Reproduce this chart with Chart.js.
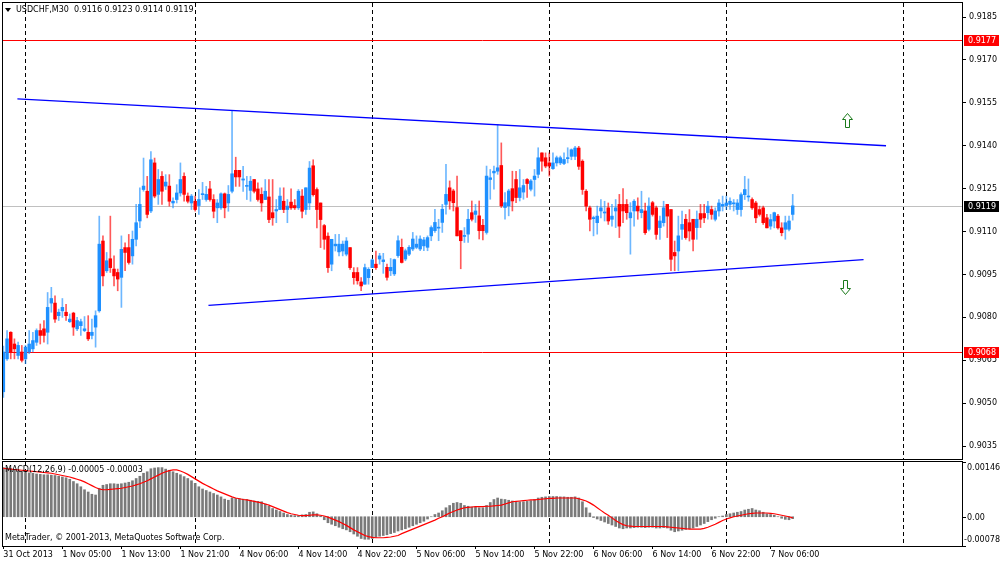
<!DOCTYPE html>
<html>
<head>
<meta charset="utf-8">
<script src="https://cdn.jsdelivr.net/npm/chart.js@4.4.0/dist/chart.umd.min.js"></script>
<style>
  html, body { margin: 0; padding: 0; background: #fff; }
  #wrap { position: relative; width: 1000px; height: 562px; overflow: hidden; }
  canvas { position: absolute; left: 0; }
  #priceCanvas { top: 0; }
  #macdCanvas { top: 461px; }
</style>
</head>
<body>
<div id="wrap">
  <canvas id="priceCanvas" width="1000" height="461"></canvas>
  <canvas id="macdCanvas" width="1000" height="101"></canvas>
</div>
<script>
// USDCHF M30, 31 Oct 2013 21:00 .. 7 Nov 2013 09:00 (bar index 0..214)
const symbolText = 'USDCHF,M30';

const barOpen = [
  0.90540,0.90655,0.90748,0.90707,0.90667,0.90679,0.90655,0.90679,0.90690,0.90713,
  0.90754,0.90760,0.90748,0.90850,0.90850,0.90806,0.90823,0.90818,0.90785,0.90815,
  0.90760,0.90771,0.90754,0.90748,0.90737,0.90766,0.90823,0.91067,0.90963,0.91005,
  0.90969,0.90957,0.90940,0.91044,0.91044,0.91015,0.91073,0.91137,0.91247,0.91241,
  0.91172,0.91340,0.91230,0.91293,0.91259,0.91259,0.91200,0.91212,0.91235,0.91293,
  0.91224,0.91200,0.91206,0.91191,0.91229,0.91212,0.91249,0.91212,0.91183,0.91183,
  0.91232,0.91200,0.91241,0.91314,0.91314,0.91280,0.91258,0.91244,0.91282,0.91249,
  0.91230,0.91212,0.91221,0.91166,0.91172,0.91177,0.91206,0.91177,0.91203,0.91191,
  0.91183,0.91224,0.91177,0.91200,0.91330,0.91247,0.91200,0.91121,0.91084,0.90986,
  0.91050,0.91029,0.91032,0.91021,0.91044,0.90957,0.90957,0.90924,0.90916,0.90939,
  0.90974,0.90986,0.91004,0.90995,0.90975,0.90963,0.90952,0.91016,0.91045,0.91004,
  0.91021,0.91039,0.91045,0.91039,0.91050,0.91045,0.91085,0.91103,0.91112,0.91132,
  0.91195,0.91253,0.91242,0.91184,0.91103,0.91083,0.91091,0.91166,0.91160,0.91155,
  0.91122,0.91097,0.91282,0.91305,0.91311,0.91331,0.91184,0.91190,0.91250,0.91282,
  0.91219,0.91238,0.91282,0.91248,0.91282,0.91300,0.91375,0.91358,0.91340,0.91320,
  0.91340,0.91340,0.91338,0.91355,0.91363,0.91363,0.91392,0.91346,0.91241,0.91183,
  0.91145,0.91131,0.91172,0.91165,0.91183,0.91143,0.91172,0.91195,0.91195,0.91195,
  0.91148,0.91172,0.91189,0.91166,0.91172,0.91108,0.91201,0.91183,0.91114,0.91131,
  0.91195,0.91177,0.91027,0.91032,0.91108,0.91143,0.91131,0.91143,0.91114,0.91163,
  0.91163,0.91166,0.91177,0.91143,0.91172,0.91189,0.91191,0.91195,0.91197,0.91177,
  0.91177,0.91229,0.91221,0.91212,0.91200,0.91177,0.91183,0.91148,0.91119,0.91137,
  0.91154,0.91113,0.91108,0.91108,0.91160
];
const barHigh = [
  0.90700,0.90754,0.90750,0.90725,0.90714,0.90702,0.90702,0.90754,0.90748,0.90760,
  0.90777,0.90789,0.90887,0.90905,0.90875,0.90829,0.90866,0.90846,0.90812,0.90818,
  0.90800,0.90794,0.90803,0.90806,0.90794,0.90823,0.91154,0.91085,0.91027,0.91154,
  0.91015,0.90969,0.91085,0.91061,0.91090,0.91102,0.91195,0.91253,0.91357,0.91293,
  0.91380,0.91357,0.91317,0.91310,0.91299,0.91299,0.91218,0.91264,0.91340,0.91305,
  0.91235,0.91230,0.91224,0.91247,0.91272,0.91258,0.91276,0.91229,0.91212,0.91235,
  0.91235,0.91261,0.91522,0.91360,0.91314,0.91328,0.91293,0.91293,0.91282,0.91270,
  0.91253,0.91282,0.91282,0.91282,0.91212,0.91253,0.91253,0.91212,0.91249,0.91212,
  0.91247,0.91247,0.91253,0.91345,0.91351,0.91253,0.91200,0.91125,0.91096,0.91073,
  0.91090,0.91090,0.91067,0.91079,0.91044,0.90974,0.90974,0.90939,0.90986,0.90974,
  0.91004,0.91032,0.91024,0.91024,0.90986,0.91006,0.91004,0.91085,0.91074,0.91039,
  0.91051,0.91097,0.91085,0.91085,0.91080,0.91085,0.91120,0.91178,0.91143,0.91195,
  0.91335,0.91277,0.91248,0.91294,0.91103,0.91114,0.91178,0.91207,0.91195,0.91207,
  0.91143,0.91329,0.91317,0.91329,0.91474,0.91410,0.91236,0.91248,0.91311,0.91311,
  0.91317,0.91282,0.91285,0.91282,0.91317,0.91393,0.91375,0.91375,0.91375,0.91375,
  0.91364,0.91364,0.91375,0.91393,0.91389,0.91398,0.91398,0.91351,0.91247,0.91189,
  0.91154,0.91189,0.91212,0.91206,0.91200,0.91195,0.91212,0.91230,0.91250,0.91212,
  0.91201,0.91212,0.91218,0.91241,0.91200,0.91218,0.91206,0.91189,0.91154,0.91206,
  0.91195,0.91177,0.91067,0.91154,0.91172,0.91160,0.91177,0.91143,0.91172,0.91195,
  0.91195,0.91206,0.91189,0.91183,0.91212,0.91224,0.91224,0.91218,0.91212,0.91212,
  0.91235,0.91293,0.91284,0.91218,0.91206,0.91189,0.91189,0.91160,0.91160,0.91168,
  0.91160,0.91131,0.91154,0.91154,0.91230
];
const barLow = [
  0.90520,0.90650,0.90655,0.90655,0.90655,0.90644,0.90638,0.90673,0.90679,0.90702,
  0.90707,0.90713,0.90707,0.90818,0.90782,0.90789,0.90800,0.90789,0.90782,0.90737,
  0.90754,0.90737,0.90750,0.90719,0.90725,0.90696,0.90818,0.90910,0.90957,0.90957,
  0.90910,0.90893,0.90835,0.90963,0.90986,0.90986,0.91050,0.91114,0.91241,0.91148,
  0.91166,0.91218,0.91195,0.91195,0.91247,0.91189,0.91183,0.91200,0.91224,0.91206,
  0.91200,0.91177,0.91171,0.91160,0.91212,0.91206,0.91206,0.91148,0.91131,0.91177,
  0.91148,0.91171,0.91235,0.91258,0.91258,0.91240,0.91212,0.91206,0.91235,0.91206,
  0.91171,0.91212,0.91131,0.91122,0.91131,0.91177,0.91166,0.91131,0.91177,0.91177,
  0.91177,0.91148,0.91160,0.91177,0.91224,0.91113,0.91044,0.91038,0.90957,0.90963,
  0.91032,0.91015,0.91015,0.91015,0.90968,0.90916,0.90916,0.90893,0.90916,0.90916,
  0.90974,0.90968,0.90986,0.90954,0.90930,0.90946,0.90946,0.91010,0.90990,0.90998,
  0.91016,0.91033,0.91040,0.91033,0.91033,0.91033,0.91068,0.91097,0.91068,0.91097,
  0.91161,0.91178,0.91172,0.91085,0.90970,0.91062,0.91062,0.91137,0.91132,0.91074,
  0.91071,0.91091,0.91213,0.91248,0.91300,0.91184,0.91143,0.91155,0.91172,0.91201,
  0.91207,0.91213,0.91219,0.91242,0.91224,0.91288,0.91311,0.91323,0.91294,0.91317,
  0.91329,0.91334,0.91334,0.91340,0.91351,0.91351,0.91317,0.91230,0.91172,0.91102,
  0.91085,0.91091,0.91148,0.91137,0.91125,0.91119,0.91114,0.91079,0.91131,0.91143,
  0.91021,0.91119,0.91143,0.91148,0.91090,0.91102,0.91154,0.91073,0.91073,0.91119,
  0.91079,0.90963,0.90963,0.90963,0.91073,0.91073,0.91067,0.91032,0.91073,0.91114,
  0.91131,0.91143,0.91143,0.91137,0.91154,0.91172,0.91177,0.91177,0.91172,0.91160,
  0.91154,0.91212,0.91206,0.91177,0.91131,0.91154,0.91125,0.91113,0.91108,0.91113,
  0.91108,0.91085,0.91073,0.91102,0.91140
];
const barClose = [
  0.90679,0.90725,0.90679,0.90690,0.90702,0.90650,0.90696,0.90707,0.90719,0.90754,
  0.90737,0.90737,0.90835,0.90866,0.90794,0.90818,0.90835,0.90806,0.90794,0.90766,
  0.90789,0.90785,0.90760,0.90725,0.90748,0.90806,0.91056,0.90945,0.90998,0.90974,
  0.90945,0.90934,0.91038,0.91027,0.90992,0.91073,0.91131,0.91195,0.91259,0.91160,
  0.91351,0.91224,0.91282,0.91241,0.91273,0.91206,0.91206,0.91235,0.91282,0.91230,
  0.91206,0.91224,0.91177,0.91212,0.91232,0.91230,0.91212,0.91171,0.91200,0.91232,
  0.91183,0.91230,0.91302,0.91291,0.91291,0.91284,0.91260,0.91276,0.91241,0.91212,
  0.91200,0.91241,0.91142,0.91148,0.91177,0.91224,0.91177,0.91189,0.91183,0.91183,
  0.91241,0.91171,0.91253,0.91322,0.91229,0.91177,0.91142,0.91073,0.90974,0.91073,
  0.91056,0.91056,0.91056,0.91067,0.90974,0.90939,0.90928,0.90910,0.90974,0.90968,
  0.91001,0.90974,0.91015,0.91001,0.90940,0.90975,0.91002,0.91068,0.90992,0.91033,
  0.91045,0.91074,0.91056,0.91074,0.91071,0.91079,0.91114,0.91132,0.91114,0.91178,
  0.91230,0.91207,0.91201,0.91085,0.91068,0.91085,0.91143,0.91143,0.91172,0.91103,
  0.91103,0.91294,0.91288,0.91311,0.91323,0.91190,0.91201,0.91242,0.91207,0.91219,
  0.91253,0.91261,0.91268,0.91277,0.91294,0.91358,0.91346,0.91329,0.91329,0.91340,
  0.91358,0.91358,0.91352,0.91358,0.91386,0.91392,0.91328,0.91247,0.91189,0.91143,
  0.91149,0.91154,0.91183,0.91168,0.91137,0.91154,0.91183,0.91119,0.91172,0.91166,
  0.91166,0.91206,0.91172,0.91177,0.91096,0.91189,0.91160,0.91090,0.91137,0.91183,
  0.91154,0.91003,0.91015,0.91085,0.91125,0.91079,0.91102,0.91073,0.91143,0.91143,
  0.91148,0.91189,0.91160,0.91172,0.91200,0.91195,0.91200,0.91206,0.91200,0.91200,
  0.91229,0.91247,0.91224,0.91183,0.91148,0.91160,0.91131,0.91113,0.91142,0.91166,
  0.91113,0.91096,0.91131,0.91137,0.91190
];

// MACD(12,26,9): main line (histogram) and signal line
const macdHist = [
  0.00131,0.00130,0.00128,0.00125,0.00122,0.00120,0.00118,0.00117,0.00116,0.00114,
  0.00113,0.00112,0.00112,0.00111,0.00110,0.00108,0.00106,0.00104,0.00100,0.00094,
  0.00088,0.00080,0.00072,0.00066,0.00060,0.00058,0.00076,0.00084,0.00086,0.00088,
  0.00088,0.00087,0.00088,0.00090,0.00092,0.00096,0.00102,0.00108,0.00116,0.00120,
  0.00128,0.00130,0.00131,0.00131,0.00127,0.00124,0.00120,0.00116,0.00112,0.00107,
  0.00102,0.00096,0.00089,0.00080,0.00074,0.00070,0.00066,0.00062,0.00058,0.00053,
  0.00047,0.00044,0.00050,0.00049,0.00048,0.00047,0.00046,0.00044,0.00042,0.00041,
  0.00040,0.00034,0.00028,0.00022,0.00018,0.00014,0.00010,0.00006,0.00004,0.00003,
  0.00003,0.00005,0.00006,0.00012,0.00013,0.00008,0.00002,-0.00008,-0.00016,-0.00020,
  -0.00024,-0.00028,-0.00032,-0.00035,-0.00040,-0.00046,-0.00052,-0.00058,-0.00060,-0.00060,
  -0.00058,-0.00055,-0.00052,-0.00050,-0.00048,-0.00045,-0.00042,-0.00038,-0.00035,-0.00032,
  -0.00028,-0.00024,-0.00020,-0.00016,-0.00012,-0.00006,0.00000,0.00006,0.00010,0.00016,
  0.00024,0.00030,0.00036,0.00038,0.00036,0.00030,0.00028,0.00026,0.00026,0.00024,
  0.00024,0.00030,0.00038,0.00046,0.00050,0.00047,0.00046,0.00044,0.00042,0.00040,
  0.00040,0.00040,0.00041,0.00043,0.00046,0.00050,0.00052,0.00053,0.00054,0.00054,
  0.00054,0.00053,0.00053,0.00052,0.00052,0.00053,0.00050,0.00040,0.00024,0.00010,
  -0.00002,-0.00006,-0.00010,-0.00014,-0.00018,-0.00022,-0.00026,-0.00030,-0.00032,-0.00030,
  -0.00030,-0.00029,-0.00028,-0.00028,-0.00029,-0.00028,-0.00028,-0.00030,-0.00030,-0.00029,
  -0.00030,-0.00036,-0.00040,-0.00038,-0.00036,-0.00034,-0.00032,-0.00030,-0.00026,-0.00022,
  -0.00018,-0.00013,-0.00008,-0.00004,0.00000,0.00002,0.00006,0.00008,0.00010,0.00012,
  0.00014,0.00018,0.00020,0.00022,0.00018,0.00016,0.00012,0.00008,0.00006,0.00004,
  0.00000,-0.00004,-0.00007,-0.00008,-0.00005
];
const macdSignal = [
  0.00129,0.00128,0.00127,0.00126,0.00125,0.00124,0.00123,0.00122,0.00121,0.00120,
  0.00119,0.00118,0.00117,0.00116,0.00114,0.00112,0.00110,0.00108,0.00106,0.00103,
  0.00100,0.00097,0.00093,0.00088,0.00083,0.00078,0.00074,0.00072,0.00072,0.00073,
  0.00074,0.00075,0.00076,0.00078,0.00080,0.00082,0.00085,0.00088,0.00092,0.00096,
  0.00101,0.00106,0.00111,0.00116,0.00120,0.00123,0.00125,0.00125,0.00122,0.00118,
  0.00113,0.00107,0.00101,0.00095,0.00089,0.00084,0.00079,0.00074,0.00069,0.00065,
  0.00061,0.00057,0.00053,0.00050,0.00048,0.00046,0.00045,0.00043,0.00041,0.00039,
  0.00037,0.00034,0.00031,0.00027,0.00023,0.00019,0.00015,0.00011,0.00008,0.00006,
  0.00004,0.00003,0.00003,0.00004,0.00005,0.00005,0.00004,0.00002,-0.00001,-0.00005,
  -0.00009,-0.00013,-0.00018,-0.00023,-0.00029,-0.00035,-0.00040,-0.00045,-0.00050,-0.00053,
  -0.00055,-0.00056,-0.00056,-0.00056,-0.00055,-0.00054,-0.00052,-0.00050,-0.00045,-0.00041,
  -0.00037,-0.00033,-0.00029,-0.00025,-0.00021,-0.00017,-0.00013,-0.00009,-0.00004,0.00000,
  0.00005,0.00010,0.00014,0.00018,0.00021,0.00024,0.00025,0.00026,0.00027,0.00027,
  0.00027,0.00028,0.00028,0.00029,0.00030,0.00031,0.00034,0.00037,0.00040,0.00041,
  0.00042,0.00043,0.00044,0.00045,0.00045,0.00046,0.00047,0.00048,0.00049,0.00049,
  0.00050,0.00050,0.00050,0.00050,0.00050,0.00050,0.00048,0.00045,0.00042,0.00037,
  0.00031,0.00024,0.00017,0.00010,0.00004,-0.00003,-0.00010,-0.00016,-0.00021,-0.00024,
  -0.00025,-0.00026,-0.00026,-0.00026,-0.00026,-0.00026,-0.00026,-0.00026,-0.00026,-0.00026,
  -0.00027,-0.00028,-0.00029,-0.00030,-0.00031,-0.00032,-0.00033,-0.00033,-0.00033,-0.00033,
  -0.00031,-0.00028,-0.00024,-0.00020,-0.00015,-0.00010,-0.00006,-0.00003,0.00000,0.00002,
  0.00004,0.00006,0.00008,0.00009,0.00010,0.00010,0.00010,0.00010,0.00009,0.00008,
  0.00006,0.00004,0.00002,0.00000,-0.00003
];

// time axis: bar indices of tick labels and day separators
const tickBars = [0, 16, 32, 48, 64, 80, 96, 112, 128, 144, 160, 176, 192, 208];
const tickText = ['31 Oct 2013', '1 Nov 05:00', '1 Nov 13:00', '1 Nov 21:00', '4 Nov 06:00',
  '4 Nov 14:00', '4 Nov 22:00', '5 Nov 06:00', '5 Nov 14:00', '5 Nov 22:00', '6 Nov 06:00',
  '6 Nov 14:00', '6 Nov 22:00', '7 Nov 06:00'];
const sepBars = [6, 52, 100, 148, 196, 244];

// price axis
const priceTicks = [0.9035, 0.9050, 0.9065, 0.9080, 0.9095, 0.9110, 0.9125, 0.9140, 0.9155, 0.9170, 0.9185];
const macdTicks = [0.00146, 0, -0.00078];

// objects on chart
const levelPrice = [0.9177, 0.9119, 0.9068];
const levelKind = ['alert', 'bid', 'alert'];
const upperTrend = [{ x: 3.8, y: 0.91564 }, { x: 239.3, y: 0.91400 }];
const lowerTrend = [{ x: 55.6, y: 0.90842 }, { x: 233.2, y: 0.91002 }];
const arrowBar = [228.6, 228.3];
const arrowPrice = [0.91491, 0.90905];
const arrowDir = ['up', 'down'];

const FONT = "'DejaVu Sans', 'Liberation Sans', sans-serif";
const FONT_PX = 8;
const BULL = '#1E90FF', BEAR = '#FF0000';
const BULL_WICK = 'rgba(30,144,255,0.65)', BEAR_WICK = 'rgba(255,0,0,0.65)';
const levelStyle = { alert: { line: '#FF0000', box: '#FF0000' }, bid: { line: '#C0C0C0', box: '#000000' } };
const X_MIN = -0.1, X_MAX = 259.9;

Chart.defaults.font.family = FONT;
Chart.defaults.font.size = FONT_PX;
Chart.defaults.color = '#000';

const last = barClose.length - 1;
const isBull = i => barClose[i] >= barOpen[i];

function drawSeparators(chart) {
  const { ctx, chartArea: a, scales: { x } } = chart;
  ctx.save();
  ctx.beginPath();
  ctx.rect(a.left, a.top, a.right - a.left, a.bottom - a.top);
  ctx.clip();
  ctx.strokeStyle = '#000';
  ctx.lineWidth = 1;
  ctx.setLineDash([4, 3]);
  sepBars.forEach(b => {
    const px = Math.round(x.getPixelForValue(b)) + 0.5;
    ctx.beginPath();
    ctx.moveTo(px, a.top);
    ctx.lineTo(px, a.bottom);
    ctx.stroke();
  });
  ctx.restore();
}

function drawFrame(chart) {
  const { ctx, chartArea: a } = chart;
  ctx.save();
  ctx.strokeStyle = '#000';
  ctx.lineWidth = 1;
  ctx.strokeRect(Math.round(a.left) - 0.5, Math.round(a.top) - 0.5,
    Math.round(a.right - a.left) + 1, Math.round(a.bottom - a.top) + 1);
  ctx.restore();
}

function drawArrow(ctx, cx, cy, dir) {
  const s = dir === 'up' ? 1 : -1;
  ctx.beginPath();
  ctx.moveTo(cx, cy - 7 * s);
  ctx.lineTo(cx + 5, cy - 1 * s);
  ctx.lineTo(cx + 2, cy - 1 * s);
  ctx.lineTo(cx + 2, cy + 7 * s);
  ctx.lineTo(cx - 2, cy + 7 * s);
  ctx.lineTo(cx - 2, cy - 1 * s);
  ctx.lineTo(cx - 5, cy - 1 * s);
  ctx.closePath();
  ctx.fillStyle = '#fff';
  ctx.fill();
  ctx.strokeStyle = '#1B7A1B';
  ctx.lineWidth = 1;
  ctx.stroke();
}

// y axes: fixed width, no extra padding for the end labels
function fitRightAxis(s) {
  s.width = 38;
  s.paddingTop = 0;
  s.paddingBottom = 0;
}

const priceOverlay = {
  id: 'priceOverlay',
  beforeDatasetsDraw(chart) {
    const { ctx, chartArea: a, scales: { y } } = chart;
    drawSeparators(chart);
    ctx.save();
    levelPrice.forEach((p, i) => {
      const py = Math.round(y.getPixelForValue(p)) + 0.5;
      ctx.strokeStyle = levelStyle[levelKind[i]].line;
      ctx.lineWidth = 1;
      ctx.beginPath();
      ctx.moveTo(a.left, py);
      ctx.lineTo(a.right, py);
      ctx.stroke();
    });
    ctx.restore();
  },
  afterDatasetsDraw(chart) {
    const { ctx, scales: { x, y } } = chart;
    ctx.save();
    arrowBar.forEach((b, i) => {
      drawArrow(ctx, Math.round(x.getPixelForValue(b)) + 0.5, Math.round(y.getPixelForValue(arrowPrice[i])) + 0.5, arrowDir[i]);
    });
    ctx.restore();
  },
  afterDraw(chart) {
    const { ctx, chartArea: a, scales: { y } } = chart;
    drawFrame(chart);
    ctx.save();
    ctx.font = FONT_PX + 'px ' + FONT;
    ctx.textBaseline = 'middle';
    levelPrice.forEach((p, i) => {
      const py = Math.round(y.getPixelForValue(p));
      ctx.fillStyle = levelStyle[levelKind[i]].box;
      ctx.fillRect(a.right + 2, py - 5, 35, 11);
      ctx.fillStyle = '#fff';
      ctx.fillText(p.toFixed(4), a.right + 6, py + 0.5);
    });
    // header: symbol and last bar OHLC
    ctx.fillStyle = '#000';
    ctx.beginPath();
    ctx.moveTo(5, 8);
    ctx.lineTo(11, 8);
    ctx.lineTo(8, 12);
    ctx.closePath();
    ctx.fill();
    const ohlc = [barOpen[last], barHigh[last], barLow[last], barClose[last]].map(v => v.toFixed(4)).join(' ');
    ctx.fillText(symbolText + '  ' + ohlc, 16, 10);
    ctx.restore();
  }
};

const macdOverlay = {
  id: 'macdOverlay',
  beforeDatasetsDraw(chart) {
    drawSeparators(chart);
  },
  afterDraw(chart) {
    const { ctx, chartArea: a, scales: { y } } = chart;
    drawFrame(chart);
    ctx.save();
    ctx.font = FONT_PX + 'px ' + FONT;
    ctx.fillStyle = '#000';
    ctx.strokeStyle = '#000';
    macdTicks.forEach(v => {
      const py = Math.round(y.getPixelForValue(v)) + 0.5;
      ctx.beginPath();
      ctx.moveTo(a.right, py);
      ctx.lineTo(a.right + 4, py);
      ctx.stroke();
      let ty = py, base = 'middle', tx = a.right + 5;
      if (v === macdTicks[0]) { base = 'top'; ty = py + 1; }
      if (v === macdTicks[2]) { base = 'bottom'; ty = py - 3; tx = a.right + 2; }
      ctx.textBaseline = base;
      ctx.fillText(v === 0 ? '0.00' : v.toFixed(5), tx, ty);
    });
    ctx.textBaseline = 'middle';
    ctx.fillText('MACD(12,26,9) ' + macdHist[last].toFixed(5) + ' ' + macdSignal[last].toFixed(5), 5, a.top + 8);
    ctx.fillText('MetaTrader, \u00A9 2001-2013, MetaQuotes Software Corp.', 5, a.bottom - 8);
    ctx.restore();
  }
};

new Chart(document.getElementById('priceCanvas'), {
  type: 'bar',
  data: {
    datasets: [
      {
        type: 'line', order: 0, data: upperTrend,
        borderColor: '#0000FF', borderWidth: 1.4, pointRadius: 0, fill: false
      },
      {
        type: 'line', order: 0, data: lowerTrend,
        borderColor: '#0000FF', borderWidth: 1.4, pointRadius: 0, fill: false
      },
      {
        order: 1, grouped: false, barThickness: 2.8, minBarLength: 1,
        data: barOpen.map((o, i) => ({ x: i, y: [o, barClose[i]] })),
        backgroundColor: c => isBull(c.dataIndex) ? BULL : BEAR
      },
      {
        order: 2, grouped: false, barThickness: 1,
        data: barLow.map((l, i) => ({ x: i, y: [l, barHigh[i]] })),
        backgroundColor: c => isBull(c.dataIndex) ? BULL_WICK : BEAR_WICK
      }
    ]
  },
  options: {
    responsive: false,
    animation: false,
    layout: { padding: { left: 3, top: 3, bottom: 2, right: 0 } },
    plugins: { legend: { display: false }, tooltip: { enabled: false } },
    scales: {
      x: { type: 'linear', min: X_MIN, max: X_MAX, offset: false, display: false },
      y: {
        position: 'right', min: 0.90305, max: 0.91899,
        afterBuildTicks: s => { s.ticks = priceTicks.map(v => ({ value: v })); },
        afterFit: fitRightAxis,
        ticks: { callback: v => v.toFixed(4), padding: 3, color: '#000' },
        grid: { drawOnChartArea: false, tickLength: 4, color: '#000' },
        border: { display: false }
      }
    }
  },
  plugins: [priceOverlay]
});

new Chart(document.getElementById('macdCanvas'), {
  type: 'bar',
  data: {
    datasets: [
      {
        type: 'line', order: 0,
        data: macdSignal.map((v, i) => ({ x: i, y: v })),
        borderColor: '#FF0000', borderWidth: 1.2, pointRadius: 0, tension: 0, fill: false
      },
      {
        order: 1, grouped: false, barThickness: 2,
        data: macdHist.map((v, i) => ({ x: i, y: v })),
        backgroundColor: '#7A7A7A'
      }
    ]
  },
  options: {
    responsive: false,
    animation: false,
    layout: { padding: { left: 3, top: 1, bottom: 0, right: 0 } },
    plugins: { legend: { display: false }, tooltip: { enabled: false } },
    scales: {
      x: {
        type: 'linear', min: X_MIN, max: X_MAX, offset: false,
        afterBuildTicks: s => { s.ticks = tickBars.map(v => ({ value: v })); },
        afterFit: s => { s.height = 16; s.paddingLeft = 0; s.paddingRight = 0; },
        ticks: {
          autoSkip: false, maxRotation: 0, minRotation: 0, align: 'start', padding: 1, color: '#000',
          callback: v => tickText[tickBars.indexOf(v)]
        },
        grid: { drawOnChartArea: false, tickLength: 3, color: '#000', offset: false },
        border: { display: false }
      },
      y: {
        position: 'right', min: -0.00078, max: 0.00146,
        afterFit: fitRightAxis,
        ticks: { display: false },
        grid: { display: false },
        border: { display: false }
      }
    }
  },
  plugins: [macdOverlay]
});
</script>
</body>
</html>
